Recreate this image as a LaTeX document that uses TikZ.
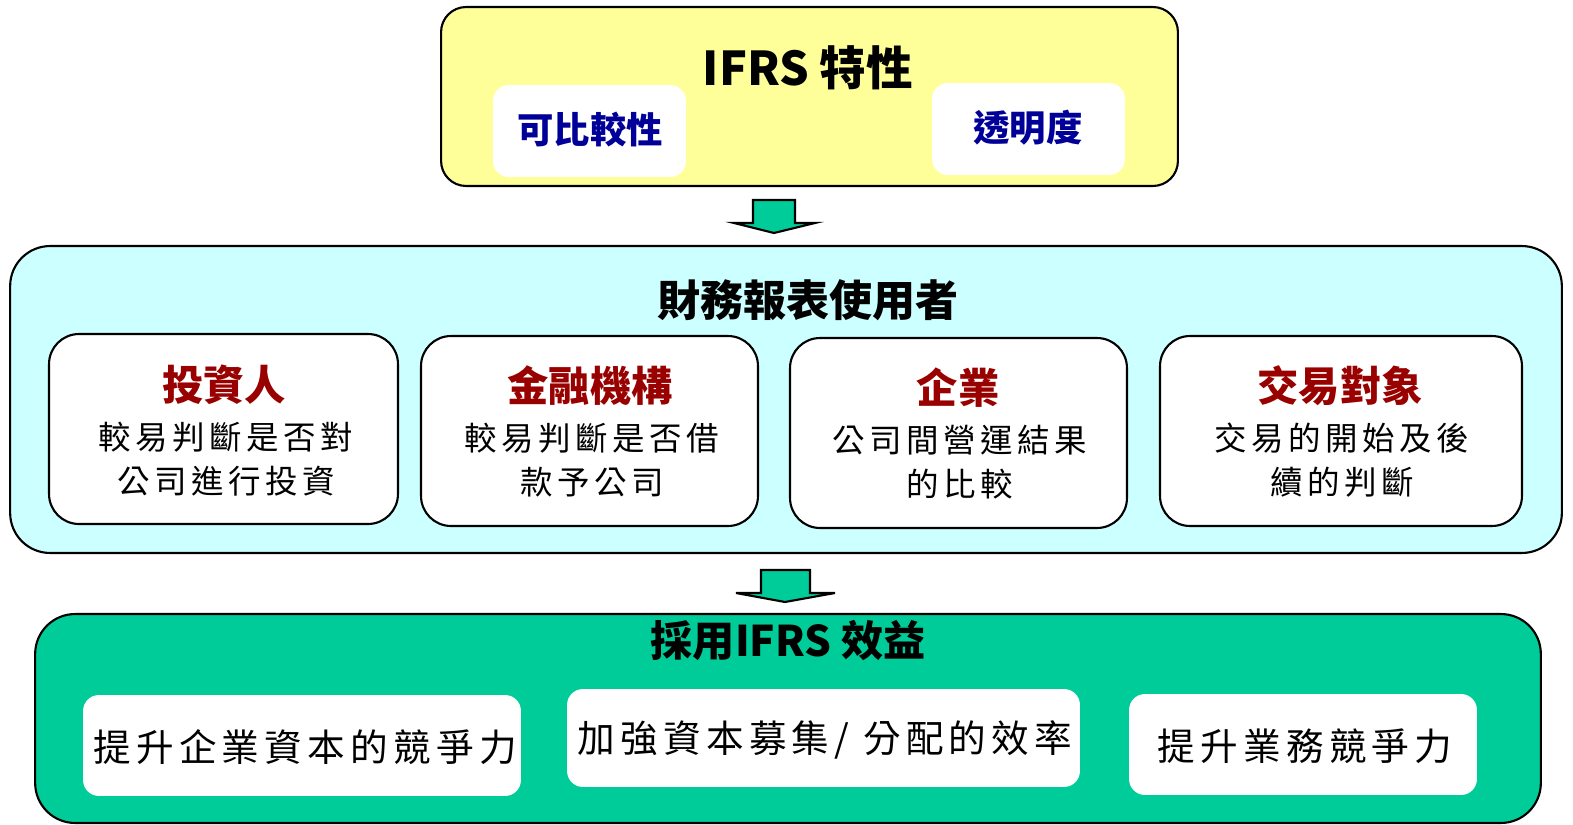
\documentclass[tikz,border=0pt]{standalone}
\usepackage{fontspec}
\setmainfont{Noto Sans CJK TC}
\newfontfamily\spaced[LetterSpace=14]{Noto Sans CJK TC}
\definecolor{ylw}{HTML}{FFFF99}
\definecolor{cyn}{HTML}{CCFFFF}
\definecolor{grn}{HTML}{00CC99}
\definecolor{navy}{HTML}{000099}
\definecolor{dred}{HTML}{990000}
\tikzset{
  frame/.style={draw=black,line width=1.2pt,inner sep=0pt},
  wbox/.style={fill=white,draw=none,inner sep=0pt,rounded corners=0.32cm},
  ibox/.style={fill=white,draw=black,line width=1.2pt,inner sep=0pt,rounded corners=0.6cm,minimum height=3.8cm},
  bigtitle/.style={font=\fontsize{24}{26}\selectfont\bfseries,inner sep=0pt},
  subtitle/.style={font=\fontsize{23.5}{26}\selectfont\bfseries,text=dred,inner sep=0pt},
  bodytxt/.style={font=\spaced\fontsize{18.5}{20}\selectfont,inner sep=0pt},
  navytxt/.style={font=\fontsize{20.7}{22}\selectfont\bfseries,text=navy,inner sep=0pt},
  bottxt/.style={font=\spaced\fontsize{21.4}{23}\selectfont,inner sep=0pt},
  blockarrow/.style={fill=grn,draw=black,line width=1.2pt,line join=miter}
}
\begin{document}
\begin{tikzpicture}[x=0.02cm,y=-0.02cm]
\useasboundingbox (0,0) rectangle (1573,825);
% top box
\node[frame,fill=ylw,rounded corners=0.5cm,minimum width=14.74cm,minimum height=3.58cm] (top) at (809.5,96.5) {};
\node[bigtitle,font=\fontsize{26.5}{28}\selectfont\bfseries] (toptitle) at (808,68) {IFRS 特性};
\node[wbox,minimum width=3.86cm,minimum height=1.84cm] (cmp) at (589.5,131) {};
\node[navytxt] (cmpt) at (590,130) {可比較性};
\node[wbox,minimum width=3.86cm,minimum height=1.84cm] (trn) at (1028.5,129) {};
\node[navytxt] (trnt) at (1028,128) {透明度};
% arrow 1
\draw[blockarrow] (753,200) -- (795,200) -- (795,223) -- (815,223) -- (774,233) -- (734,223) -- (753,223) -- cycle;
% middle box
\node[frame,fill=cyn,rounded corners=0.8cm,minimum width=31.04cm,minimum height=6.14cm] (mid) at (786,399.5) {};
\node[bigtitle,font=\fontsize{24.5}{26}\selectfont\bfseries] (midtitle) at (808,300) {財務報表使用者};
\node[ibox,minimum width=6.98cm] (u1) at (223.5,429) {};
\node[subtitle] (u1t) at (224,385) {投資人};
\node[bodytxt] (u1a) at (226,437) {較易判斷是否對};
\node[bodytxt] (u1b) at (226,481) {公司進行投資};
\node[ibox,minimum width=6.74cm] (u2) at (589.5,431) {};
\node[subtitle] (u2t) at (590,386) {金融機構};
\node[bodytxt] (u2a) at (592,438) {較易判斷是否借};
\node[bodytxt] (u2b) at (592,482) {款予公司};
\node[ibox,minimum width=6.74cm] (u3) at (958.5,433) {};
\node[subtitle] (u3t) at (958,388) {企業};
\node[bodytxt] (u3a) at (960,440) {公司間營運結果};
\node[bodytxt] (u3b) at (960,484) {的比較};
\node[ibox,minimum width=7.24cm] (u4) at (1341,431) {};
\node[subtitle] (u4t) at (1340,386) {交易對象};
\node[bodytxt] (u4a) at (1342,438) {交易的開始及後};
\node[bodytxt] (u4b) at (1342,482) {續的判斷};
% arrow 2
\draw[blockarrow] (761,570) -- (810,570) -- (810,593) -- (835,593) -- (785,602) -- (736,593) -- (761,593) -- cycle;
% bottom box
\node[frame,fill=grn,rounded corners=0.8cm,minimum width=30.12cm,minimum height=4.18cm] (bot) at (788,718.5) {};
\node[bigtitle] (bottitle) at (788,640) {採用IFRS 效益};
\node[wbox,minimum width=8.76cm,minimum height=2.02cm] (b1) at (302,745.5) {};
\node[bottxt] (b1t) at (305,747) {提升企業資本的競爭力};
\node[wbox,minimum width=10.26cm,minimum height=1.96cm] (b2) at (823.5,738) {};
\node[bottxt] (b2t) at (825,740) {加強資本募集/ 分配的效率};
\node[wbox,minimum width=6.96cm,minimum height=2.02cm] (b3) at (1303,744.5) {};
\node[bottxt] (b3t) at (1305,746) {提升業務競爭力};
\end{tikzpicture}
\end{document}
